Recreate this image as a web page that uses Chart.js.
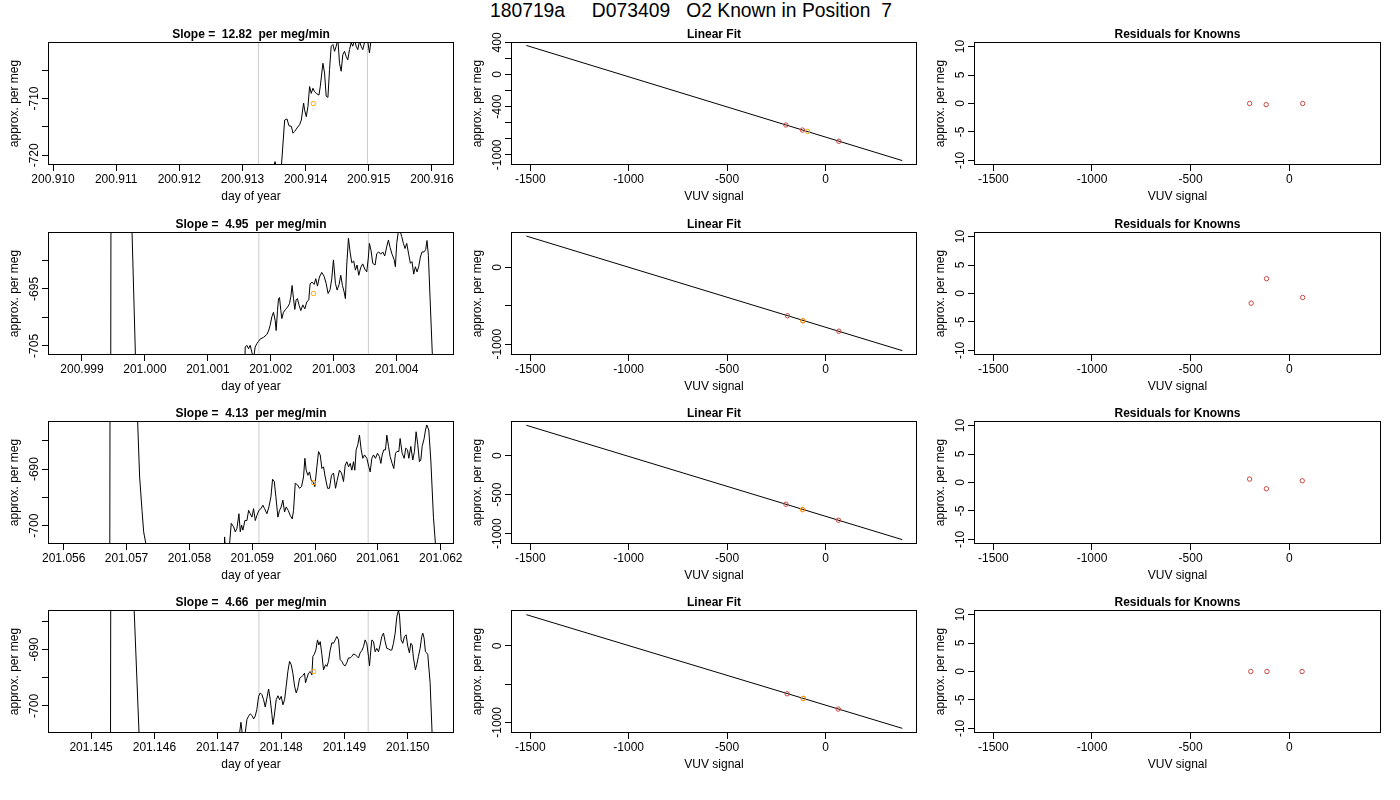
<!DOCTYPE html>
<html>
<head>
<meta charset="utf-8">
<script src="https://cdn.jsdelivr.net/npm/chart.js@4.4.1/dist/chart.umd.min.js"></script>
<style>
  body { margin: 0; background: #fff; width: 1400px; height: 800px; position: relative; overflow: hidden; }
  #main-title { position: absolute; left: 691px; top: 0; transform: translateX(-50%); font: 19.3px "Liberation Sans", Arial, sans-serif; line-height: 22px; white-space: pre; color: #000; }
  canvas { position: absolute; }
</style>
</head>
<body>
<div id="main-title">180719a     D073409   O2 Known in Position  7</div>
<script>
// ---- data ----
var slopeTitles = ['Slope =  12.82  per meg/min', 'Slope =  4.95  per meg/min', 'Slope =  4.13  per meg/min', 'Slope =  4.66  per meg/min'];

// day-of-year axis per row
var doyRange = [[200.90992, 200.91635], [200.99846, 201.00491], [201.05575, 201.06221], [201.14432, 201.15073]];
var doyTicks = [
  [200.910, 200.911, 200.912, 200.913, 200.914, 200.915, 200.916],
  [200.999, 201.000, 201.001, 201.002, 201.003, 201.004],
  [201.056, 201.057, 201.058, 201.059, 201.060, 201.061, 201.062],
  [201.145, 201.146, 201.147, 201.148, 201.149, 201.150]
];
var doyLabels = [
  ['200.910', '200.911', '200.912', '200.913', '200.914', '200.915', '200.916'],
  ['200.999', '201.000', '201.001', '201.002', '201.003', '201.004'],
  ['201.056', '201.057', '201.058', '201.059', '201.060', '201.061', '201.062'],
  ['201.145', '201.146', '201.147', '201.148', '201.149', '201.150']
];
var megRange = [[-721.7, -700.06], [-706.6, -685], [-703.25, -681.5], [-704.8, -683]];
var megTicks = [[-705, -710, -715, -720], [-690, -695, -700, -705], [-685, -690, -695, -700], [-685, -690, -695, -700]];
var megLabels = [['', '-710', '', '-720'], ['', '-695', '', '-705'], ['', '-690', '', '-700'], ['', '-690', '', '-700']];

// averaging window edges (grey lines) and the averaged point (orange)
var windowEdges = [[200.913253, 200.914979], [201.001810, 201.003550], [201.059106, 201.060844], [201.147650, 201.149375]];
var meanPoint = [[200.914121, -710.9], [201.002677, -695.8], [201.059975, -692.4], [201.148512, -693.9]];

// raw traces [day of year, per meg]
var trace1 = [[200.912853,-760],[200.913458,-723.8],[200.913516,-721.1],[200.913547,-722.6],[200.913616,-722.0],[200.913668,-713.8],[200.913705,-713.6],[200.913737,-714.8],[200.913774,-714.9],[200.913800,-716.1],[200.913826,-715.8],[200.913863,-715.2],[200.913905,-714.6],[200.913932,-713.8],[200.913968,-710.8],[200.913984,-712.0],[200.914011,-713.2],[200.914037,-711.4],[200.914063,-707.9],[200.914089,-709.1],[200.914116,-708.2],[200.914142,-708.8],[200.914168,-709.1],[200.914211,-709.4],[200.914232,-707.9],[200.914274,-703.8],[200.914300,-705.5],[200.914326,-709.6],[200.914353,-709.8],[200.914379,-704.9],[200.914405,-700.8],[200.914432,-700.5],[200.914458,-701.7],[200.914484,-700.8],[200.914511,-699.6],[200.914537,-703.8],[200.914563,-705.2],[200.914589,-702.3],[200.914616,-701.7],[200.914642,-702.6],[200.914668,-703.2],[200.914695,-701.4],[200.914721,-700.2],[200.914747,-700.8],[200.914774,-699.6],[200.914800,-700.8],[200.914826,-701.4],[200.914853,-699.9],[200.914879,-700.8],[200.914905,-701.4],[200.914932,-700.2],[200.914958,-699.6],[200.914984,-699.9],[200.915011,-702.0],[200.915037,-699.6],[200.915089,-697.3],[200.915484,-690]];

var trace2 = [[200.999450,-760],[200.999471,-600],[200.999788,-682],[200.999852,-708],[200.999926,-760],[201.001566,-720],[201.001593,-705.2],[201.001619,-704.9],[201.001646,-705.5],[201.001672,-704.9],[201.001698,-706.1],[201.001725,-707.3],[201.001751,-705.2],[201.001778,-704.6],[201.001804,-704.2],[201.001831,-703.8],[201.001884,-703.5],[201.001936,-703.0],[201.001963,-702.4],[201.001989,-701.4],[201.002016,-699.9],[201.002042,-699.1],[201.002069,-700.5],[201.002085,-702.3],[201.002106,-698.8],[201.002122,-696.7],[201.002138,-696.5],[201.002159,-698.8],[201.002175,-700.2],[201.002201,-699.1],[201.002233,-698.6],[201.002265,-698.2],[201.002296,-697.6],[201.002317,-696.4],[201.002338,-694.4],[201.002360,-696.7],[201.002381,-698.6],[201.002402,-696.9],[201.002423,-696.7],[201.002450,-697.9],[201.002476,-698.8],[201.002508,-697.8],[201.002540,-698.5],[201.002571,-697.3],[201.002603,-696.9],[201.002624,-694.1],[201.002656,-693.8],[201.002688,-694.2],[201.002714,-693.2],[201.002741,-694.5],[201.002772,-692.9],[201.002809,-692.1],[201.002847,-692.8],[201.002878,-694.0],[201.002910,-695.8],[201.002942,-695.1],[201.002968,-693.2],[201.002995,-689.9],[201.003026,-694.0],[201.003053,-695.2],[201.003085,-694.2],[201.003111,-692.6],[201.003138,-694.4],[201.003164,-695.5],[201.003185,-696.7],[201.003206,-690.8],[201.003233,-686.1],[201.003259,-688.5],[201.003286,-690.4],[201.003317,-690.1],[201.003344,-691.7],[201.003370,-690.8],[201.003397,-692.6],[201.003429,-691.2],[201.003460,-690.6],[201.003492,-691.5],[201.003524,-692.0],[201.003550,-689.4],[201.003566,-687.0],[201.003593,-688.3],[201.003619,-690.5],[201.003656,-690.8],[201.003683,-688.8],[201.003714,-688.5],[201.003746,-688.9],[201.003778,-688.5],[201.003810,-689.2],[201.003841,-687.6],[201.003868,-686.4],[201.003894,-687.7],[201.003926,-688.9],[201.003958,-689.8],[201.003979,-691.1],[201.004000,-687.0],[201.004026,-684.9],[201.004053,-684.8],[201.004079,-685.8],[201.004106,-687.0],[201.004132,-687.9],[201.004159,-687.0],[201.004190,-688.9],[201.004217,-690.5],[201.004243,-690.2],[201.004270,-692.4],[201.004296,-691.1],[201.004323,-692.0],[201.004349,-691.1],[201.004376,-689.4],[201.004402,-688.5],[201.004434,-688.5],[201.004460,-688.1],[201.004481,-686.5],[201.004503,-689.1],[201.004529,-696.4],[201.004566,-706.6],[201.004608,-760]];

var trace3 = [[201.056726,-760],[201.056747,-600],[201.057155,-675],[201.057208,-691.4],[201.057246,-697.3],[201.057272,-701.1],[201.057309,-703.3],[201.057352,-730],[201.058533,-715],[201.058560,-702.0],[201.058576,-704.5],[201.058620,-706],[201.058639,-703.2],[201.058666,-699.6],[201.058703,-700.2],[201.058730,-701.1],[201.058756,-700.5],[201.058788,-697.9],[201.058809,-701.1],[201.058830,-699.9],[201.058851,-700.8],[201.058883,-699.1],[201.058915,-699.1],[201.058942,-697.3],[201.058968,-697.9],[201.058995,-698.5],[201.059021,-697.0],[201.059048,-699.1],[201.059074,-698.2],[201.059106,-697.3],[201.059138,-697.0],[201.059169,-696.4],[201.059196,-697.0],[201.059233,-697.9],[201.059265,-696.7],[201.059297,-694.9],[201.059323,-691.8],[201.059350,-692.2],[201.059376,-694.9],[201.059408,-698.5],[201.059434,-697.3],[201.059461,-696.7],[201.059487,-695.5],[201.059514,-697.6],[201.059540,-696.7],[201.059572,-697.3],[201.059604,-698.2],[201.059636,-698.8],[201.059657,-697.3],[201.059684,-692.5],[201.059721,-692.8],[201.059752,-693.4],[201.059784,-693.1],[201.059816,-691.4],[201.059837,-688.1],[201.059858,-690.2],[201.059885,-691.1],[201.059911,-690.5],[201.059938,-692.0],[201.059964,-692.2],[201.059996,-693.1],[201.060028,-689.6],[201.060055,-686.9],[201.060081,-687.5],[201.060108,-689.9],[201.060134,-689.6],[201.060161,-691.4],[201.060198,-693.4],[201.060229,-693.4],[201.060261,-691.1],[201.060293,-690.7],[201.060325,-693.4],[201.060351,-692.0],[201.060388,-690.2],[201.060420,-690.7],[201.060452,-692.2],[201.060479,-689.3],[201.060505,-688.7],[201.060532,-689.6],[201.060558,-689.0],[201.060585,-690.2],[201.060611,-688.7],[201.060632,-690.2],[201.060653,-686.6],[201.060680,-685.7],[201.060706,-684.0],[201.060733,-686.6],[201.060759,-688.1],[201.060786,-687.5],[201.060823,-688.1],[201.060855,-689.6],[201.060876,-690.5],[201.060903,-688.1],[201.060929,-687.5],[201.060961,-688.1],[201.060993,-687.2],[201.061024,-687.8],[201.061046,-689.0],[201.061067,-687.5],[201.061093,-686.6],[201.061120,-686.6],[201.061141,-684.0],[201.061168,-686.0],[201.061194,-687.8],[201.061226,-689.0],[201.061252,-689.9],[201.061279,-687.2],[201.061300,-686.9],[201.061332,-686.9],[201.061353,-684.6],[201.061385,-687.2],[201.061417,-688.1],[201.061443,-686.3],[201.061470,-686.6],[201.061491,-688.1],[201.061523,-686.0],[201.061554,-688.4],[201.061581,-686.9],[201.061607,-683.4],[201.061634,-685.7],[201.061660,-688.7],[201.061682,-688.4],[201.061703,-686.0],[201.061735,-684.6],[201.061756,-683.1],[201.061777,-682.2],[201.061809,-683.1],[201.061841,-688.4],[201.061883,-698.5],[201.061915,-703.3],[201.061947,-730]];

var trace4 = [[201.145300,-760],[201.145321,-600],[201.145652,-675],[201.145757,-704.8],[201.145799,-730],[201.147314,-712],[201.147345,-704.8],[201.147366,-702.9],[201.147392,-705.4],[201.147424,-705.6],[201.147461,-702.4],[201.147487,-701.8],[201.147513,-701.4],[201.147540,-701.7],[201.147566,-702.3],[201.147592,-701.8],[201.147618,-700.6],[201.147645,-698.3],[201.147671,-697.7],[201.147697,-698.0],[201.147724,-698.9],[201.147750,-700.2],[201.147776,-698.6],[201.147803,-697.0],[201.147829,-698.9],[201.147855,-701.5],[201.147871,-703.3],[201.147892,-701.8],[201.147923,-698.9],[201.147950,-698.2],[201.147976,-698.9],[201.148002,-698.3],[201.148029,-699.8],[201.148055,-698.9],[201.148081,-696.5],[201.148107,-693.9],[201.148134,-692.1],[201.148160,-692.7],[201.148186,-694.2],[201.148213,-696.5],[201.148239,-697.7],[201.148265,-696.8],[201.148292,-695.1],[201.148318,-694.9],[201.148344,-694.6],[201.148370,-694.2],[201.148386,-695.9],[201.148407,-695.1],[201.148433,-694.2],[201.148460,-693.9],[201.148486,-694.5],[201.148502,-691.2],[201.148523,-690.9],[201.148549,-690.1],[201.148575,-688.3],[201.148596,-689.2],[201.148618,-688.6],[201.148644,-690.9],[201.148670,-693.6],[201.148702,-692.7],[201.148723,-693.0],[201.148749,-692.1],[201.148775,-690.1],[201.148802,-688.8],[201.148828,-688.9],[201.148854,-688.3],[201.148880,-687.7],[201.148907,-688.3],[201.148933,-691.8],[201.148959,-692.1],[201.148986,-692.7],[201.149012,-692.9],[201.149038,-692.3],[201.149064,-691.5],[201.149091,-691.5],[201.149117,-691.2],[201.149143,-690.8],[201.149170,-690.9],[201.149196,-691.2],[201.149222,-691.5],[201.149248,-690.6],[201.149275,-690.2],[201.149301,-689.5],[201.149327,-688.3],[201.149354,-689.0],[201.149380,-691.2],[201.149396,-692.9],[201.149417,-690.1],[201.149433,-688.3],[201.149459,-688.6],[201.149485,-690.4],[201.149511,-689.8],[201.149538,-690.4],[201.149564,-689.2],[201.149590,-687.7],[201.149617,-687.1],[201.149643,-688.6],[201.149669,-689.8],[201.149695,-689.9],[201.149722,-690.1],[201.149748,-690.1],[201.149774,-688.9],[201.149801,-687.1],[201.149827,-684.2],[201.149853,-683.1],[201.149869,-683.9],[201.149895,-688.3],[201.149921,-688.9],[201.149948,-687.7],[201.149974,-687.4],[201.150000,-689.4],[201.150026,-690.6],[201.150048,-688.9],[201.150069,-689.2],[201.150090,-691.5],[201.150121,-693.6],[201.150142,-692.7],[201.150169,-691.2],[201.150195,-689.8],[201.150221,-687.7],[201.150237,-687.1],[201.150258,-688.0],[201.150279,-690.4],[201.150300,-690.6],[201.150316,-690.9],[201.150353,-695.9],[201.150384,-704.8],[201.150416,-730]];
var traces = [trace1, trace2, trace3, trace4];

// VUV signal axis (middle and right columns)
var vuvRange = [-1598, 465];
var vuvTicks = [-1500, -1000, -500, 0];
var vuvLabels = ['-1500', '-1000', '-500', '0'];

// linear fit panels
var fitRange = [[-1127, 405], [-1140, 463], [-1133, 446], [-1139, 470]];
var fitTicks = [[400, 200, 0, -200, -400, -600, -800, -1000], [0, -500, -1000], [0, -500, -1000], [0, -500, -1000]];
var fitLabels = [['400', '', '0', '', '-400', '', '', '-1000'], ['0', '', '-1000'], ['0', '-500', '-1000'], ['0', '', '-1000']];
var fitLines = [[[-1520, 362], [390, -1072]], [[-1520, 410], [390, -1083]], [[-1520, 391], [390, -1077]], [[-1520, 409], [390, -1078]]];
var knownVuv = [[-201, -117, 68], [-193, -115, 68], [-201, -116, 66], [-195, -113, 65]];
var knownMeg = [[-629, -692, -832], [-629, -694, -830], [-622, -691, -828], [-626, -687, -826]];
var samplePoint = [[-91, -709], [-115, -694], [-117, -691], [-113, -687]];

// residual panels
var residRange = [-10.8, 10.8];
var residTicks = [-10, -5, 0, 5, 10];
var residLabels = ['-10', '-5', '0', '5', '10'];
var residuals = [[0.0, -0.2, 0.0], [-1.7, 2.6, -0.7], [0.6, -1.1, 0.3], [0.0, 0.0, 0.0]];

// ---- layout ----
var colLeft = [48, 511, 974];
var colWidth = [406, 406, 407];
var rowTop = [42, 232, 421, 610];
var plotHeight = 123;
var RIGHT_PAD = 30;
var FONT = '"Liberation Sans", Arial, sans-serif';

Chart.defaults.font.family = FONT;
Chart.defaults.color = '#000';

var boxPlugin = {
    id: 'box',
    afterDatasetsDraw: function (chart) {
        var a = chart.chartArea, ctx = chart.ctx;
        ctx.save();
        ctx.strokeStyle = '#000';
        ctx.lineWidth = 1;
        ctx.strokeRect(a.left + 0.5, a.top + 0.5, a.right - a.left - 1, a.bottom - a.top - 1);
        ctx.restore();
    }
};

var measureCtx = document.createElement('canvas').getContext('2d');
function yTickPadding(labels) {
    // centre the rotated labels 13px left of the plot box
    measureCtx.font = '12px ' + FONT;
    var widest = 0;
    labels.forEach(function (l) { widest = Math.max(widest, measureCtx.measureText(l).width); });
    return 13 - 6 - widest / 2;
}

function toPoints(pairs) {
    return pairs.map(function (p) { return { x: p[0], y: p[1] }; });
}

function lineSet(pairs, color) {
    return { data: toPoints(pairs), showLine: true, borderColor: color, borderWidth: 1, pointRadius: 0, clip: 0 };
}

function ringSet(xs, ys, color) {
    var pts = xs.map(function (x, i) { return { x: x, y: ys[i] }; });
    return { data: pts, showLine: false, pointStyle: 'circle', pointRadius: 2.2, borderWidth: 1,
             borderColor: color, backgroundColor: 'rgba(0,0,0,0)' };
}

function axis(range, ticks, labels, extra) {
    var ax = {
        type: 'linear', min: range[0], max: range[1],
        afterBuildTicks: function (s) { s.ticks = ticks.map(function (v) { return { value: v }; }); },
        ticks: { autoSkip: false, color: '#000', font: { size: 12 },
                 callback: function (v, i) { return labels[i]; } },
        grid: { drawOnChartArea: false, drawTicks: true, tickLength: 6, color: '#000', lineWidth: 1 },
        border: { display: false }
    };
    Object.keys(extra).forEach(function (k) {
        if (typeof extra[k] === 'object' && ax[k]) Object.assign(ax[k], extra[k]); else ax[k] = extra[k];
    });
    return ax;
}

function makePanel(col, row, p) {
    var canvas = document.createElement('canvas');
    canvas.width = 48 + colWidth[col] + RIGHT_PAD;
    canvas.height = 22 + plotHeight + 45;
    canvas.style.left = (colLeft[col] - 48) + 'px';
    canvas.style.top = (rowTop[row] - 22) + 'px';
    document.body.appendChild(canvas);

    new Chart(canvas, {
        type: 'scatter',
        data: { datasets: p.datasets },
        options: {
            responsive: false,
            animation: false,
            events: [],
            layout: { padding: { left: 0, right: RIGHT_PAD, top: 0, bottom: 0 } },
            plugins: {
                legend: { display: false },
                tooltip: { enabled: false },
                title: { display: true, text: p.title, fullSize: false, color: '#000',
                         font: { size: 12, weight: 'bold' }, padding: { top: 7.3, bottom: 0.3 } }
            },
            scales: {
                x: axis(p.xRange, p.xTicks, p.xLabels, {
                    afterFit: function (s) { s.height = 45; },
                    ticks: { maxRotation: 0, minRotation: 0, padding: 1 },
                    title: { display: true, text: p.xTitle, color: '#000', font: { size: 12 }, padding: { top: 0, bottom: 5.8 } }
                }),
                y: axis(p.yRange, p.yTicks, p.yLabels, {
                    afterFit: function (s) { s.width = 48; },
                    ticks: { minRotation: 90, maxRotation: 90, crossAlign: 'center', padding: yTickPadding(p.yLabels) },
                    title: { display: true, text: 'approx. per meg', color: '#000', font: { size: 12 }, padding: { top: 7.8, bottom: 0 } }
                })
            }
        },
        plugins: [boxPlugin]
    });
}

for (var r = 0; r < 4; r++) {
    var yr = megRange[r];
    // time series: orange mean on top, then trace, then grey window lines
    makePanel(0, r, {
        title: slopeTitles[r], xTitle: 'day of year',
        xRange: doyRange[r], xTicks: doyTicks[r], xLabels: doyLabels[r],
        yRange: yr, yTicks: megTicks[r], yLabels: megLabels[r],
        datasets: [
            ringSet([meanPoint[r][0]], [meanPoint[r][1]], '#FFA500'),
            lineSet(traces[r], '#000'),
            lineSet([[windowEdges[r][0], yr[0]], [windowEdges[r][0], yr[1]]], '#cccccc'),
            lineSet([[windowEdges[r][1], yr[0]], [windowEdges[r][1], yr[1]]], '#cccccc')
        ]
    });
    makePanel(1, r, {
        title: 'Linear Fit', xTitle: 'VUV signal',
        xRange: vuvRange, xTicks: vuvTicks, xLabels: vuvLabels,
        yRange: fitRange[r], yTicks: fitTicks[r], yLabels: fitLabels[r],
        datasets: [
            ringSet([samplePoint[r][0]], [samplePoint[r][1]], '#FFA500'),
            ringSet(knownVuv[r], knownMeg[r], '#c8453f'),
            lineSet(fitLines[r], '#000')
        ]
    });
    makePanel(2, r, {
        title: 'Residuals for Knowns', xTitle: 'VUV signal',
        xRange: vuvRange, xTicks: vuvTicks, xLabels: vuvLabels,
        yRange: residRange, yTicks: residTicks, yLabels: residLabels,
        datasets: [ ringSet(knownVuv[r], residuals[r], '#c8453f') ]
    });
}
</script>
</body>
</html>
